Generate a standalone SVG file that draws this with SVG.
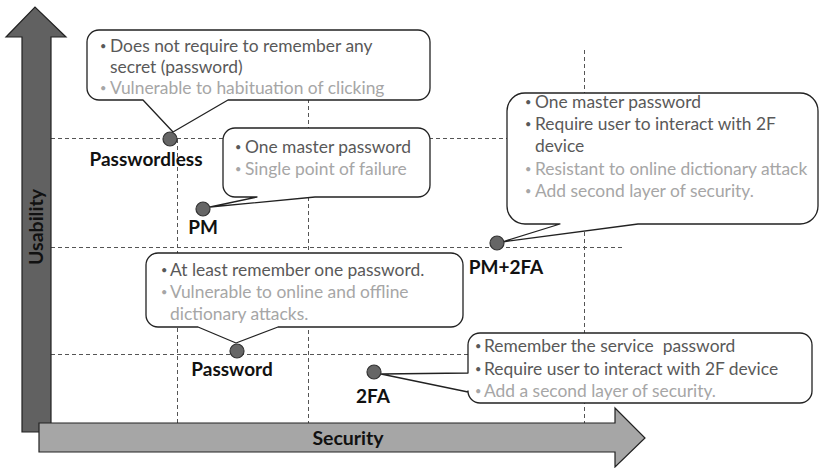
<svg xmlns="http://www.w3.org/2000/svg" width="820" height="468" viewBox="0 0 820 468">
  <style>
    .grid { stroke: #555; stroke-width: 1; stroke-dasharray: 4 3; fill: none; }
    .callout { fill: #fff; stroke: #222; stroke-width: 1.3; stroke-linejoin: round; }
    .dot { fill: #666; stroke: #333; stroke-width: 1.2; }
    .t { font-family: Lato, "Liberation Sans", sans-serif; font-size: 17.4px; }
    .dk { fill: #595959; }
    .lt { fill: #a6a6a6; }
    .bul { font-family: Lato, "Liberation Sans", sans-serif; font-size: 11px; }
    .lbl { font-family: Lato, "Liberation Sans", sans-serif; font-size: 19px; font-weight: bold; fill: #111; text-anchor: middle; }
    .axis { font-family: Lato, "Liberation Sans", sans-serif; font-size: 19.5px; font-weight: bold; fill: #111; text-anchor: middle; }
  </style>

  <!-- dashed reference grid -->
  <g id="grid">
    <line class="grid" x1="51" y1="138.5" x2="625" y2="138.5"/>
    <line class="grid" x1="51" y1="247.5" x2="625" y2="247.5"/>
    <line class="grid" x1="51" y1="354.5" x2="625" y2="354.5"/>
    <line class="grid" x1="177.5" y1="139" x2="177.5" y2="423"/>
    <line class="grid" x1="308.5" y1="50" x2="308.5" y2="423"/>
    <line class="grid" x1="584.5" y1="50" x2="584.5" y2="423"/>
  </g>

  <!-- axes -->
  <g id="axis-usability">
    <polygon points="22,432 22,37 6,37 35,7 66,37 51,37 51,432" fill="#616161" stroke="#222" stroke-width="1.2"/>
    <text class="axis" transform="translate(43,227) rotate(-90)">Usability</text>
  </g>
  <g id="axis-security">
    <polygon points="39,423 615,423 615,408 645,438 615,467 615,452 39,452" fill="#a6a6a6" stroke="#222" stroke-width="1.2"/>
    <text class="axis" x="348" y="445">Security</text>
  </g>

  <!-- callout pointers -->
  <g id="connectors">
    <path class="callout" d="M99,30 H418 A12,12 0 0 1 430,42 V88 A12,12 0 0 1 418,100 H228 L173,132 L143,100 H99 A12,12 0 0 1 87,88 V42 A12,12 0 0 1 99,30 Z"/>
    <path class="callout" d="M235,128 H418 A12,12 0 0 1 430,140 V185 A12,12 0 0 1 418,197 H315 L210,207 L257,197 H235 A12,12 0 0 1 223,185 V140 A12,12 0 0 1 235,128 Z"/>
    <path class="callout" d="M525,93 H800 A18,18 0 0 1 818,111 V206 A18,18 0 0 1 800,224 H638 L502,242 L560,224 H525 A18,18 0 0 1 507,206 V111 A18,18 0 0 1 525,93 Z"/>
    <path class="callout" d="M158,253 H451 A12,12 0 0 1 463,265 V315 A12,12 0 0 1 451,327 H278 L236,343 L198,327 H158 A12,12 0 0 1 146,315 V265 A12,12 0 0 1 158,253 Z"/>
    <path class="callout" d="M480,333 H800 A12,12 0 0 1 812,345 V391 A12,12 0 0 1 800,403 H480 A12,12 0 0 1 468,391 V392 L381,374 L468,373 V345 A12,12 0 0 1 480,333 Z"/>
  </g>

  <g id="passwordless">
    <circle class="dot" cx="170" cy="139" r="7"/>
    <text class="lbl" x="146" y="166">Passwordless</text>
    <text class="bul dk" x="100" y="50">•</text>
    <text class="t dk" x="110" y="52">Does not require to remember any</text>
    <text class="t dk" x="110" y="73">secret (password)</text>
    <text class="bul lt" x="100" y="92">•</text>
    <text class="t lt" x="110" y="94">Vulnerable to habituation of clicking</text>
  </g>

  <g id="pm">
    <circle class="dot" cx="203" cy="209" r="7"/>
    <text class="lbl" x="203" y="234">PM</text>
    <text class="bul dk" x="235" y="151">•</text>
    <text class="t dk" x="245" y="153">One master password</text>
    <text class="bul lt" x="235" y="173">•</text>
    <text class="t lt" x="245" y="175">Single point of failure</text>
  </g>

  <g id="pm-2fa">
    <circle class="dot" cx="497" cy="243" r="7"/>
    <text class="lbl" x="506" y="274">PM+2FA</text>
    <text class="bul dk" x="525" y="106">•</text>
    <text class="t dk" x="535" y="108">One master password</text>
    <text class="bul dk" x="525" y="128">•</text>
    <text class="t dk" x="535" y="130">Require user to interact with 2F</text>
    <text class="t dk" x="535" y="152">device</text>
    <text class="bul lt" x="525" y="173">•</text>
    <text class="t lt" x="535" y="175">Resistant to online dictionary attack</text>
    <text class="bul lt" x="525" y="195">•</text>
    <text class="t lt" x="535" y="197">Add second layer of security.</text>
  </g>

  <g id="password">
    <circle class="dot" cx="237" cy="351" r="7"/>
    <text class="lbl" x="232" y="376">Password</text>
    <text class="bul dk" x="161" y="274">•</text>
    <text class="t dk" x="170" y="276">At least remember one password.</text>
    <text class="bul lt" x="161" y="296">•</text>
    <text class="t lt" x="170" y="298">Vulnerable to online and offline</text>
    <text class="t lt" x="170" y="320">dictionary attacks.</text>
  </g>

  <g id="twofa">
    <circle class="dot" cx="374" cy="372" r="7"/>
    <text class="lbl" x="373" y="403">2FA</text>
    <text class="bul dk" x="475" y="350">•</text>
    <text class="t dk" x="484" y="352">Remember the service&#160; password</text>
    <text class="bul dk" x="475" y="373">•</text>
    <text class="t dk" x="484" y="375">Require user to interact with 2F device</text>
    <text class="bul lt" x="475" y="395">•</text>
    <text class="t lt" x="484" y="397">Add a second layer of security.</text>
  </g>
</svg>
